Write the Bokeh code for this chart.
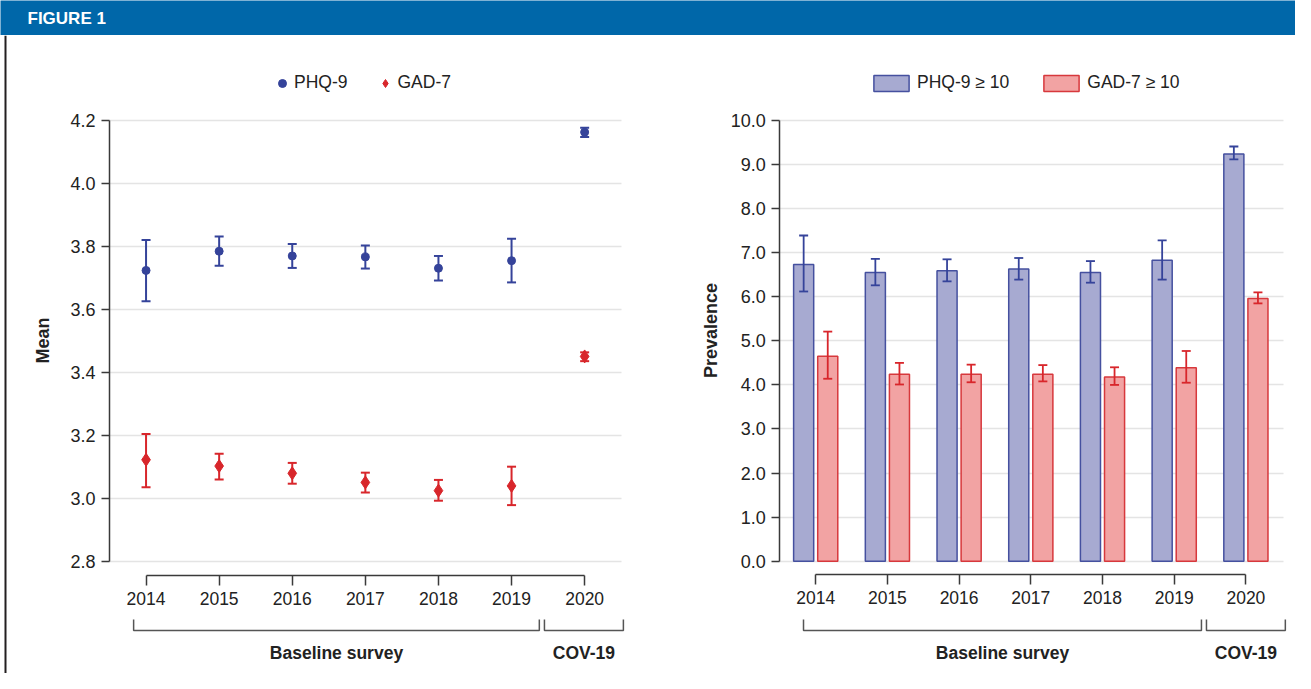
import math
from bokeh.plotting import figure
from bokeh.models import (Range1d, FixedTicker, ColumnDataSource, Whisker, TeeHead,
                          Legend, LegendItem, Span, Label, NumeralTickFormatter, Grid)
from bokeh.layouts import column, row
from bokeh.embed import file_html
from bokeh.resources import INLINE
from bokeh.core.properties import value

# ---------------- data ----------------
years = ["2014", "2015", "2016", "2017", "2018", "2019", "2020"]

phq_mean = [3.724, 3.785, 3.770, 3.767, 3.731, 3.755, 4.163]
phq_mean_lo = [3.626, 3.739, 3.732, 3.730, 3.692, 3.686, 4.148]
phq_mean_hi = [3.821, 3.832, 3.808, 3.803, 3.770, 3.825, 4.177]

gad_mean = [3.123, 3.103, 3.080, 3.051, 3.025, 3.040, 3.451]
gad_mean_lo = [3.036, 3.060, 3.047, 3.019, 2.993, 2.979, 3.436]
gad_mean_hi = [3.205, 3.142, 3.113, 3.082, 3.059, 3.101, 3.464]

phq_prev = [6.73, 6.55, 6.59, 6.63, 6.55, 6.83, 9.24]
phq_prev_lo = [6.12, 6.26, 6.35, 6.39, 6.32, 6.39, 9.12]
phq_prev_hi = [7.39, 6.86, 6.85, 6.88, 6.81, 7.28, 9.41]

gad_prev = [4.65, 4.24, 4.24, 4.24, 4.18, 4.39, 5.96]
gad_prev_lo = [4.14, 4.01, 4.06, 4.08, 4.00, 4.05, 5.85]
gad_prev_hi = [5.21, 4.50, 4.46, 4.45, 4.40, 4.77, 6.10]

mean_ticks = [2.8, 3.0, 3.2, 3.4, 3.6, 3.8, 4.0, 4.2]
prev_ticks = [0, 1, 2, 3, 4, 5, 6, 7, 8, 9, 10]

group_names = ["Baseline survey", "COV-19"]
group_first = [0, 6]   # index of first year in group
group_last = [5, 6]    # index of last year in group

series_mean = ["PHQ-9", "GAD-7"]
series_prev = ["PHQ-9 \u2265 10", "GAD-7 \u2265 10"]

# ---------------- style ----------------
FONT = "Liberation Sans"
BLUE = "#35439a"
RED = "#d8262b"
BAR_BLUE_FILL = "#a7aad1"
BAR_BLUE_LINE = "#45509f"
BAR_RED_FILL = "#f2a3a3"
BAR_RED_LINE = "#d7383c"
AXIS = "#3a3a3a"
GRID = "#e4e4e4"
TXT = "#222222"

HDR = 35
W1, W2 = 647, 648
H = 673 - HDR
idx = list(range(len(years)))
HAS_CROSS = "cross_bounds" in Grid.properties()


def base_fig(width, xr, yr):
    p = figure(width=width, height=H, x_range=xr, y_range=yr, output_backend="svg",
               toolbar_location=None, min_border=0, outline_line_color=None,
               background_fill_color="white", border_fill_color="white")
    p.xgrid.visible = False
    return p


def style_axes(p, yticks, ybounds, yfixed, xfixed, fmt, grid_x):
    ax = p.yaxis[0]
    ax.fixed_location = yfixed
    ax.ticker = FixedTicker(ticks=yticks)
    ax.bounds = ybounds
    ax.formatter = NumeralTickFormatter(format=fmt)
    ax.major_tick_out = 8
    ax.major_tick_in = 0
    ax.minor_tick_line_color = None
    ax.axis_line_color = AXIS
    ax.axis_line_width = 1.5
    ax.major_tick_line_color = AXIS
    ax.major_tick_line_width = 1.5
    ax.major_label_standoff = 6
    ax.major_label_text_font = FONT
    ax.major_label_text_font_size = "18px"
    ax.major_label_text_color = TXT

    bx = p.xaxis[0]
    bx.fixed_location = xfixed
    bx.ticker = FixedTicker(ticks=idx)
    bx.major_label_overrides = {i: y for i, y in zip(idx, years)}
    bx.bounds = (idx[0], idx[-1])
    bx.major_tick_out = 10
    bx.major_tick_in = 0
    bx.minor_tick_line_color = None
    bx.axis_line_color = AXIS
    bx.axis_line_width = 1.5
    bx.major_tick_line_color = AXIS
    bx.major_tick_line_width = 1.5
    bx.major_label_standoff = 6
    bx.major_label_text_font = FONT
    bx.major_label_text_font_size = "17.5px"
    bx.major_label_text_color = TXT

    g = p.ygrid[0]
    if HAS_CROSS:
        g.ticker = FixedTicker(ticks=yticks)
        g.grid_line_color = GRID
        g.grid_line_width = 1.5
        g.cross_bounds = grid_x
    else:
        g.visible = False
        p.segment(x0=grid_x[0], x1=grid_x[1], y0=yticks, y1=yticks,
                  line_color=GRID, line_width=1.5)


def brackets_and_groups(p, y_line, y_top, y_text, right_end):
    xs, ys, tx, ty = [], [], [], []
    for f, l in zip(group_first, group_last):
        x0 = f - 0.17 if f == 0 else f - 0.55
        x1 = l + 0.38 if l < idx[-1] else right_end
        xs.append([x0, x0, x1, x1])
        ys.append([y_top, y_line, y_line, y_top])
        tx.append((x0 + x1) / 2)
        ty.append(y_text)
    p.multi_line(xs=xs, ys=ys, line_color="#555555", line_width=1.5)
    p.text(x=tx, y=ty, text=group_names, text_font=value(FONT), text_font_style="bold",
           text_font_size="17.5px", text_align="center", text_baseline="middle",
           text_color=TXT)


# ---------------- header ----------------
hdr = figure(width=W1 + W2, height=HDR, x_range=Range1d(0, W1 + W2), y_range=Range1d(0, HDR),
             output_backend="svg", toolbar_location=None, min_border=0,
             outline_line_color=None, background_fill_color="#0067a9",
             border_fill_color="#0067a9")
hdr.axis.visible = False
hdr.grid.visible = False
hdr.add_layout(Label(x=27, y=HDR - 17.5, text="FIGURE 1", text_color="white",
                     text_font=FONT, text_font_style="bold",
                     text_font_size="17px", text_baseline="middle"))

# ---------------- left: means ----------------
L_AX, L_SP = 109, 73.1          # px of y axis, px per category
L_TOP, L_PPU, L_VTOP = 85, 315.0, 4.2
lx = lambda px: (px - L_AX) / L_SP - 0.5
ly = lambda py: L_VTOP - (py - L_TOP) / L_PPU

p1 = base_fig(W1, Range1d(lx(0), lx(W1)), Range1d(ly(H), ly(0)))
style_axes(p1, mean_ticks, (mean_ticks[0], mean_ticks[-1]), -0.5, ly(540), "0.0",
           (-0.5, 6.5))

src1 = ColumnDataSource(dict(x=idx, phq=phq_mean, phq_lo=phq_mean_lo, phq_hi=phq_mean_hi,
                             gad=gad_mean, gad_lo=gad_mean_lo, gad_hi=gad_mean_hi))
for lo, hi, col in [("phq_lo", "phq_hi", BLUE), ("gad_lo", "gad_hi", RED)]:
    p1.add_layout(Whisker(source=src1, base="x", lower=lo, upper=hi, dimension="height",
                          line_color=col, line_width=2,
                          upper_head=TeeHead(size=9, line_color=col, line_width=2),
                          lower_head=TeeHead(size=9, line_color=col, line_width=2)))
r_phq = p1.scatter("x", "phq", source=src1, marker="circle", size=8, fill_color=BLUE,
                   line_color=BLUE)
r_gad = p1.scatter("x", "gad", source=src1, marker="diamond", size=13, fill_color=RED,
                   line_color=RED)

leg1 = Legend(items=[LegendItem(label=series_mean[0], renderers=[r_phq]),
                     LegendItem(label=series_mean[1], renderers=[r_gad])],
              orientation="horizontal", location=(272, H - 47 - 11), padding=0, margin=0,
              spacing=28, glyph_width=20, glyph_height=20, label_standoff=2,
              label_text_font=FONT, label_text_font_size="17.5px", label_text_color=TXT,
              border_line_color=None, background_fill_alpha=0)
p1.add_layout(leg1)

brackets_and_groups(p1, ly(595), ly(584), ly(617), 6.53)
p1.text(x=[lx(42)], y=[ly(305)], text=["Mean"],
        angle=math.pi / 2, text_font=value(FONT), text_font_style="bold",
        text_font_size="18px", text_align="center", text_baseline="middle", text_color=TXT)
p1.add_layout(Span(location=lx(5), dimension="height", line_color="#231f20", line_width=2))

# ---------------- right: prevalence ----------------
R_T0, R_SP = 815.2 - W1, 71.7
R_ZERO, R_PPU = 525.7, 44.07
rx = lambda px: (px - R_T0) / R_SP
ry = lambda py: (R_ZERO - py) / R_PPU

p2 = base_fig(W2, Range1d(rx(0), rx(W2)), Range1d(ry(H), ry(0)))
style_axes(p2, prev_ticks, (prev_ticks[0], prev_ticks[-1]), -0.5, ry(539.3), "0.0",
           (-0.5, 6.52))

OFF, BW = 0.168, 0.28
src2 = ColumnDataSource(dict(xp=[i - OFF for i in idx], xg=[i + OFF for i in idx],
                             phq=phq_prev, phq_lo=phq_prev_lo, phq_hi=phq_prev_hi,
                             gad=gad_prev, gad_lo=gad_prev_lo, gad_hi=gad_prev_hi))
b_phq = p2.vbar(x="xp", top="phq", bottom=0, width=BW, source=src2,
                fill_color=BAR_BLUE_FILL, line_color=BAR_BLUE_LINE, line_width=1.5)
b_gad = p2.vbar(x="xg", top="gad", bottom=0, width=BW, source=src2,
                fill_color=BAR_RED_FILL, line_color=BAR_RED_LINE, line_width=1.5)
for b, lo, hi, col in [("xp", "phq_lo", "phq_hi", BLUE), ("xg", "gad_lo", "gad_hi", RED)]:
    p2.add_layout(Whisker(source=src2, base=b, lower=lo, upper=hi, dimension="height",
                          level="annotation", line_color=col, line_width=1.8,
                          upper_head=TeeHead(size=9, line_color=col, line_width=1.8),
                          lower_head=TeeHead(size=9, line_color=col, line_width=1.8)))

leg2 = Legend(items=[LegendItem(label=series_prev[0], renderers=[b_phq]),
                     LegendItem(label=series_prev[1], renderers=[b_gad])],
              orientation="horizontal", location=(222, H - 47 - 11), padding=0, margin=0,
              spacing=30, glyph_width=44, glyph_height=20, label_standoff=4,
              label_text_font=FONT, label_text_font_size="17.5px", label_text_color=TXT,
              border_line_color=None, background_fill_alpha=0)
p2.add_layout(leg2)

brackets_and_groups(p2, ry(595), ry(584), ry(617), 6.55)
p2.text(x=[rx(63)], y=[ry(295)], text=["Prevalence"],
        angle=math.pi / 2, text_font=value(FONT), text_font_style="bold",
        text_font_size="18px", text_align="center", text_baseline="middle", text_color=TXT)

layout = column(hdr, row(p1, p2))
open("out.html", "w").write(file_html(layout, INLINE))
